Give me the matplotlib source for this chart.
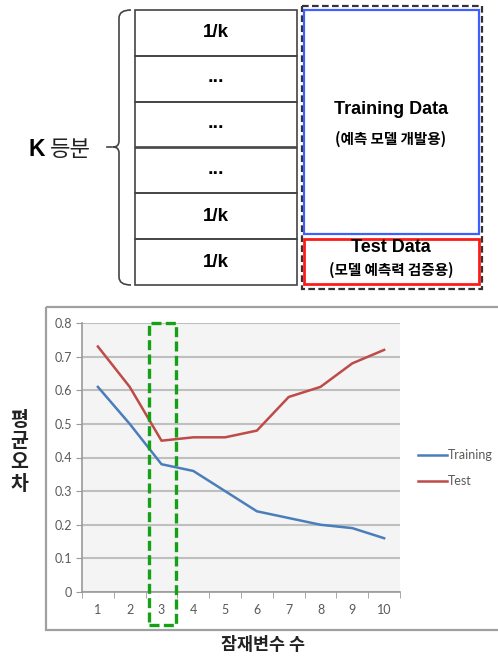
import numpy as np
import matplotlib
matplotlib.use('Agg')
import matplotlib.pyplot as plt
from matplotlib.patches import Rectangle, PathPatch
from matplotlib.path import Path

# data
fold_labels = ['1/k', '...', '...', '...', '1/k', '1/k']
n_vars = [1, 2, 3, 4, 5, 6, 7, 8, 9, 10]
training_err = [0.61, 0.50, 0.38, 0.36, 0.30, 0.24, 0.22, 0.20, 0.19, 0.16]
test_err = [0.73, 0.61, 0.45, 0.46, 0.46, 0.48, 0.58, 0.61, 0.68, 0.72]
y_ticks = [0, 0.1, 0.2, 0.3, 0.4, 0.5, 0.6, 0.7, 0.8]
best_k = 3

KR = ['Noto Sans CJK KR', 'DejaVu Sans']
LAT = ['Liberation Sans', 'Noto Sans CJK KR']

W, H = 498, 658
fig = plt.figure(figsize=(W / 100, H / 100), dpi=100)

# background axes in pixel units for the k-fold diagram
bg = fig.add_axes([0, 0, 1, 1])
bg.set_xlim(0, W)
bg.set_ylim(H, 0)
bg.axis('off')

# fold table
row_edges = np.linspace(10, 285, len(fold_labels) + 1)
tx0, tx1 = 135, 297
for i, lab in enumerate(fold_labels):
    y0, y1 = row_edges[i], row_edges[i + 1]
    bg.add_patch(Rectangle((tx0, y0), tx1 - tx0, y1 - y0, fill=False,
                           ec='#444444', lw=1.2))
    if lab == '...':
        bg.text((tx0 + tx1) / 2, (y0 + y1) / 2 - 1, lab, ha='center',
                va='center', fontsize=14, fontweight='bold', family=LAT)
    else:
        bg.text((tx0 + tx1) / 2, (y0 + y1) / 2, lab, ha='center',
                va='center', fontsize=13.5, fontweight='bold', family=LAT)

# brace on the left of the table
verts = [(131, 10), (119, 10), (119, 18),
         (119, 141),
         (119, 147), (113, 147),
         (119, 147), (119, 153),
         (119, 277),
         (119, 285), (131, 285)]
codes = [Path.MOVETO, Path.CURVE3, Path.CURVE3,
         Path.LINETO,
         Path.CURVE3, Path.CURVE3,
         Path.CURVE3, Path.CURVE3,
         Path.LINETO,
         Path.CURVE3, Path.CURVE3]
bg.add_patch(PathPatch(Path(verts, codes), fill=False, ec='#444444', lw=1.2))
bg.plot([107, 112], [147, 147], color='#444444', lw=1.2)

bg.text(28, 149, 'K', ha='left', va='center', fontsize=16.5, fontweight='bold',
        family=LAT, color='black')
bg.text(50, 150, '등분', ha='left', va='center', fontsize=16, family=KR,
        color='#222222')

# train / test split boxes
bg.add_patch(Rectangle((302, 6), 180, 283, fill=False, ec='#333333', lw=1.6,
                       ls=(0, (3, 1.5))))
bg.add_patch(Rectangle((304, 10), 175, 224, fill=False, ec='#3f5fff', lw=1.6))
bg.add_patch(Rectangle((304, 239), 175, 45, fill=False, ec='#ff1a1a', lw=2))
bg.text(391, 110, 'Training Data', ha='center', va='center', fontsize=13,
        fontweight='bold', family=LAT)
bg.text(391, 139, '(예측 모델 개발용)', ha='center', va='center', fontsize=10.5,
        fontweight='bold', family=KR)
bg.text(391, 248, 'Test Data', ha='center', va='center', fontsize=13,
        fontweight='bold', family=LAT)
bg.text(391, 270, '(모델 예측력 검증용)', ha='center', va='center', fontsize=10.5,
        fontweight='bold', family=KR)

# chart frame
bg.add_patch(Rectangle((46, 307), 470, 323, fill=False, ec='#a0a0a0', lw=1.6))

# line chart
ax = fig.add_axes([82 / W, 1 - 592 / H, (400 - 82) / W, (592 - 323) / H])
ax.set_facecolor('#f4f4f4')
ax.set_xlim(0.5, 10.5)
ax.set_ylim(0, 0.8)
ax.set_yticks(y_ticks)
ax.set_yticklabels(['0'] + [f'{v:.1f}' for v in y_ticks[1:]])
ax.set_xticks(n_vars)
ax.set_xticks(np.arange(0.5, 11, 1), minor=True)
ax.tick_params(axis='x', which='major', length=0, pad=9)
ax.tick_params(axis='x', which='minor', length=4, direction='out', color='#999999')
ax.tick_params(axis='y', length=4, direction='out', color='#999999', pad=3)
for lab in ax.get_xticklabels() + ax.get_yticklabels():
    lab.set_family('Lato')
    lab.set_fontsize(9)
    lab.set_color('#595959')
for s in ['top', 'right']:
    ax.spines[s].set_visible(False)
for s in ['left', 'bottom']:
    ax.spines[s].set_color('#999999')
    ax.spines[s].set_linewidth(1.2)
ax.grid(axis='y', color='#bfbfbf', lw=1.5)
ax.set_axisbelow(True)

ax.plot(n_vars, training_err, color='#4a7ebb', lw=1.8, label='Training')
ax.plot(n_vars, test_err, color='#be4b48', lw=1.8, label='Test')

# highlight of the chosen number of latent variables
ax.add_patch(Rectangle((best_k - 0.40, -0.098), 0.85, 0.898, fill=False,
                       ec='#16a016', lw=2.4, ls=(0, (3, 1.3)), clip_on=False,
                       zorder=5))

leg = ax.legend(loc='center left', bbox_to_anchor=(418 / W, 1 - 468 / H),
                bbox_transform=fig.transFigure, frameon=False,
                handlelength=2.3, handletextpad=0.1, labelspacing=1.1,
                borderaxespad=0, borderpad=0,
                prop={'family': 'Lato', 'size': 9})
for t in leg.get_texts():
    t.set_color('#595959')

bg.text(263, 645, '잠재변수 수', ha='center', va='center', fontsize=12.5,
        fontweight='bold', family=KR, color='#222222')
# y label written as upright characters stacked top to bottom
for j, ch in enumerate('평균오차'):
    bg.text(19, 420 + 21.5 * j, ch, ha='center', va='center', fontsize=14,
            fontweight='bold', family=KR, color='#222222')

fig.savefig('out.png', dpi=100)
